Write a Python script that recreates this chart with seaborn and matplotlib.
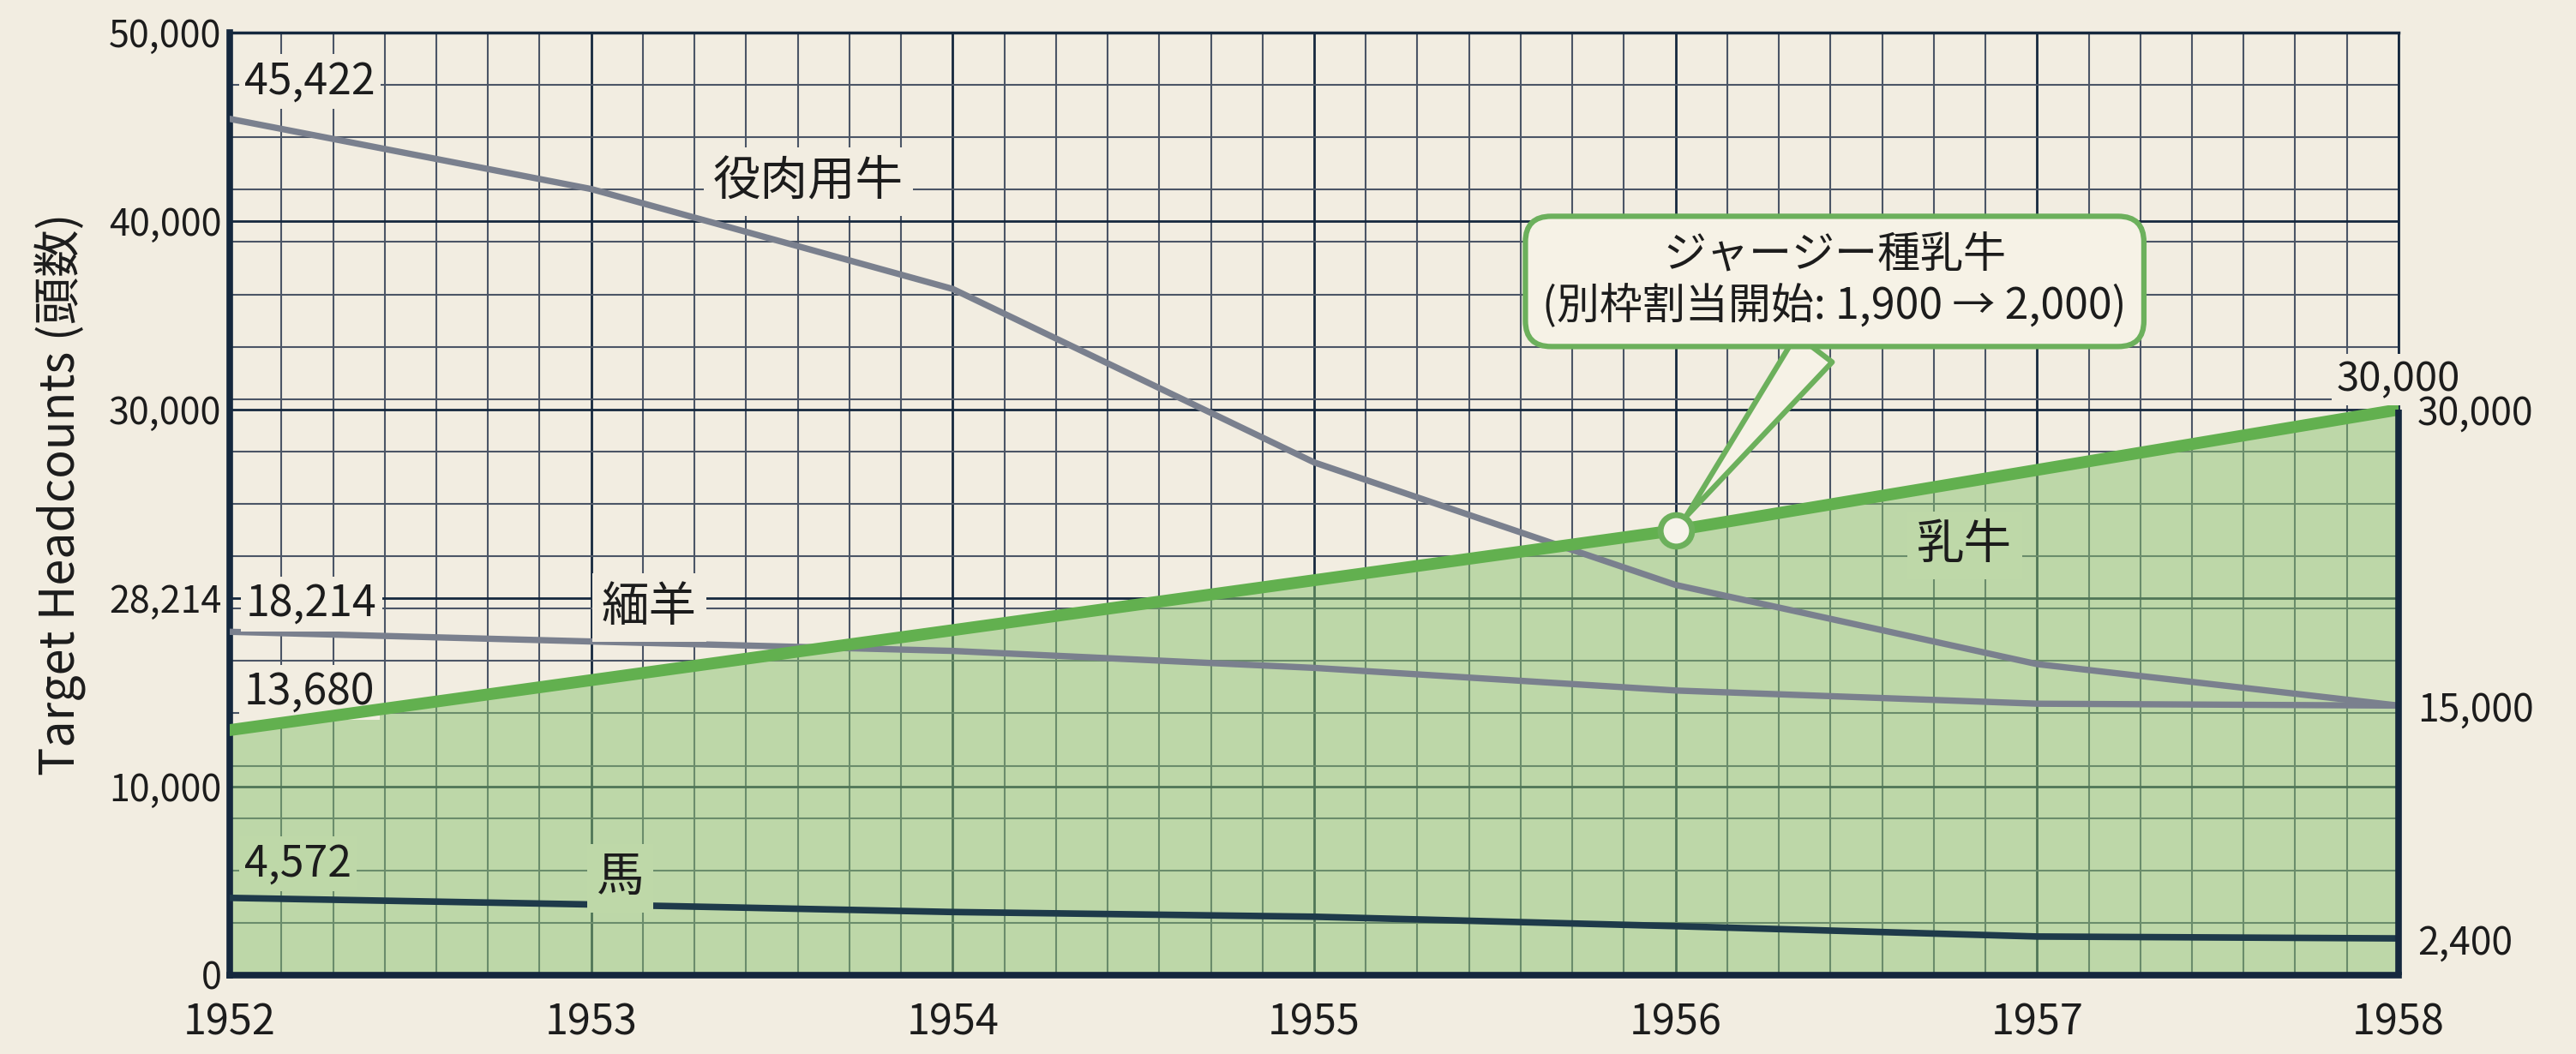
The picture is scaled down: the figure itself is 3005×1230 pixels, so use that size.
import matplotlib
matplotlib.use("Agg")
import matplotlib.pyplot as plt
import seaborn as sns
import pandas as pd
from matplotlib.ticker import FixedLocator, MultipleLocator

# ---------------- data ----------------
years = [1952, 1953, 1954, 1955, 1956, 1957, 1958]
beef = [45422, 41700, 36400, 27200, 20700, 16500, 14300]     # 役肉用牛
sheep = [18214, 17700, 17200, 16300, 15100, 14400, 14300]    # 緬羊
dairy = [13000, 15650, 18300, 20950, 23600, 26800, 30000]    # 乳牛
horse = [4100, 3750, 3350, 3100, 2600, 2050, 1950]           # 馬

series_names = ["役肉用牛", "緬羊", "乳牛", "馬"]
start_labels = ["45,422", "18,214", "13,680", "4,572"]
end_label_dairy = "30,000"
right_tick_labels = ["30,000", "15,000", "2,400"]
ytick_values = [0, 10000, 20000, 30000, 40000, 50000]
ytick_labels = ["0", "10,000", "28,214", "30,000", "40,000", "50,000"]
ylabel = "Target Headcounts (頭数)"
callout_text = "ジャージー種乳牛\n(別枠割当開始: 1,900 → 2,000)"

# ---------------- style ----------------
sns.set_theme(style="white")
plt.rcParams['font.family'] = ['Noto Sans CJK JP', 'DejaVu Sans']

BG = '#f2ede1'
NAVY = '#15283e'
MINOR = '#4b5566'
GRAY = '#7a808e'
GREEN = '#62b04f'
FILL = '#8ac370'
FILL_BLEND = '#bed8a8'
HORSE = '#1e3a4a'
TXT = '#1c1c1c'
BOX_EDGE = '#6cb05c'

fig = plt.figure(figsize=(30.05, 12.30), dpi=100, facecolor=BG)
ax = fig.add_axes([0.0892, 0.0748, 0.8419, 0.8943])
ax.set_facecolor(BG)

df = pd.DataFrame({"year": years, "beef": beef, "sheep": sheep,
                   "dairy": dairy, "horse": horse})

# grid
ax.set_xlim(years[0], years[-1])
ax.set_ylim(0, 50000)
ax.xaxis.set_major_locator(FixedLocator(years))
ax.xaxis.set_minor_locator(MultipleLocator(1 / 7))
ax.yaxis.set_major_locator(FixedLocator(ytick_values))
ax.yaxis.set_minor_locator(MultipleLocator(50000 / 18))
ax.set_axisbelow(True)
ax.grid(which='major', color=NAVY, lw=2.0)
ax.grid(which='minor', color=MINOR, lw=1.5)

# area under dairy
ax.fill_between(df["year"], df["dairy"], 0, color=FILL, alpha=0.5, lw=0, zorder=1)

# lines
sns.lineplot(data=df, x="year", y="beef", ax=ax, color=GRAY, lw=5.3, zorder=3, legend=False)
sns.lineplot(data=df, x="year", y="sheep", ax=ax, color=GRAY, lw=5.3, zorder=3, legend=False)
sns.lineplot(data=df, x="year", y="horse", ax=ax, color=HORSE, lw=5.5, zorder=3, legend=False)
sns.lineplot(data=df, x="year", y="dairy", ax=ax, color=GREEN, lw=10, zorder=4, legend=False)

# marker at 1956 on dairy
sns.scatterplot(x=[years[4]], y=[dairy[4]], ax=ax, s=700, color='#f6f3ea',
                edgecolor=BOX_EDGE, linewidth=5, zorder=6, legend=False)

# spines
for side in ['left', 'bottom']:
    ax.spines[side].set_color(NAVY)
    ax.spines[side].set_linewidth(5.5)
ax.spines['top'].set_color(NAVY)
ax.spines['top'].set_linewidth(2.5)
ax.spines['right'].set_color(NAVY)
ax.spines['right'].set_linewidth(2.0)
ax.vlines(years[-1], 0, dairy[-1], colors=NAVY, lw=5.5, zorder=5, clip_on=False)

# ticks
ax.set_yticks(ytick_values)
ax.set_yticklabels(ytick_labels)
ax.set_xticks(years)
ax.set_xticklabels([str(y) for y in years])
ax.tick_params(axis='y', which='both', length=0, pad=7, labelsize=31, labelcolor=TXT)
ax.tick_params(axis='x', which='both', length=0, pad=22, labelsize=35, labelcolor=TXT)
ax.set_xlabel("")
ax.set_ylabel(ylabel, fontsize=40, color=TXT)
ax.yaxis.set_label_coords(-0.066, 0.51)

# right axis labels (end values)
ax2 = ax.twinx()
ax2.set_ylim(ax.get_ylim())
ax2.set_yticks([dairy[-1], sheep[-1], horse[-1]])
ax2.set_yticklabels(right_tick_labels)
ax2.tick_params(axis='y', length=0, pad=16, labelsize=32, labelcolor=TXT)
for s in ax2.spines.values():
    s.set_visible(False)
ax2.grid(False)

# start-value annotations
label_box = dict(boxstyle='square,pad=0.12', fc=BG, ec='none')
ax.text(1952.04, 47400, start_labels[0], fontsize=36, color=TXT, ha='left', va='center',
        bbox=label_box, zorder=5)
ax.text(1952.045, 19700, start_labels[1], fontsize=36, color=TXT, ha='left', va='center',
        bbox=label_box, zorder=5)
ax.text(1952.04, 15000, start_labels[2], fontsize=36, color=TXT, ha='left', va='center',
        bbox=label_box, zorder=3.5)
ax.text(1952.04, 5900, start_labels[3], fontsize=36, color=TXT, ha='left', va='center',
        bbox=dict(boxstyle='square,pad=0.12', fc=FILL_BLEND, ec='none'), zorder=5)
ax.text(years[-1], 31600, end_label_dairy, fontsize=34, color=TXT, ha='center', va='center',
        bbox=label_box, zorder=5)

# series name labels
name_box = dict(boxstyle='square,pad=0.2', fc=BG, ec='none')
ax.text(1953.60, 42100, series_names[0], fontsize=40, color=TXT, ha='center', va='center',
        bbox=name_box, zorder=5)
ax.text(1953.16, 19500, series_names[1], fontsize=40, color=TXT, ha='center', va='center',
        bbox=name_box, zorder=5)
ax.text(1956.80, 22800, series_names[2], fontsize=40, color=TXT, ha='center', va='center',
        bbox=dict(boxstyle='square,pad=0.2', fc=FILL_BLEND, ec='none'), zorder=5)
ax.text(1953.08, 5150, series_names[3], fontsize=40, color=TXT, ha='center', va='center',
        bbox=dict(boxstyle='square,pad=0.2', fc=FILL_BLEND, ec='none'), zorder=5)

# callout
ax.annotate(callout_text, xy=(years[4], dairy[4]), xytext=(1956.44, 36800),
            textcoords='data', ha='center', va='center', fontsize=36, color=TXT,
            linespacing=1.2, zorder=7,
            bbox=dict(boxstyle='round,pad=0.4,rounding_size=0.6', fc='#f6f2e6',
                      ec=BOX_EDGE, lw=4.5),
            arrowprops=dict(arrowstyle='wedge,tail_width=1.05,shrink_factor=0.5',
                            fc='#f6f2e6', ec=BOX_EDGE, lw=4.5,
                            relpos=(0.49, 0.0), shrinkA=0, shrinkB=14))

fig.savefig("out.png", dpi=100, facecolor=BG)
